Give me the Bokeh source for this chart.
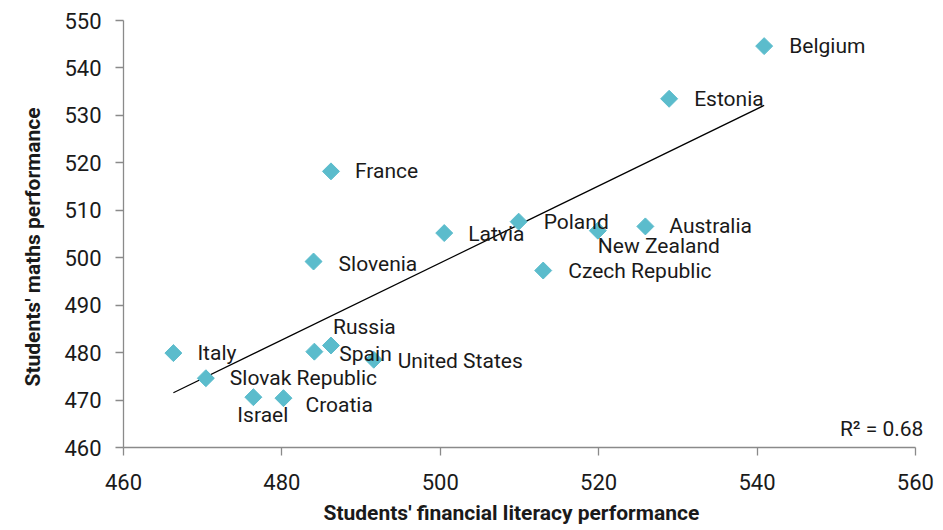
import numpy as np
from bokeh.plotting import figure
from bokeh.models import ColumnDataSource, Label, Range1d, FixedTicker, Title
from bokeh.embed import file_html
from bokeh.resources import INLINE
from bokeh.core.properties import value

# ---- data ----
countries = ["Belgium", "Estonia", "Australia", "France", "Latvia", "Poland",
             "New Zealand", "Slovenia", "Czech Republic", "Russia", "Spain",
             "United States", "Italy", "Slovak Republic", "Israel", "Croatia"]
fin_lit = [540.9, 528.9, 525.9, 486.2, 500.5, 509.9, 519.9, 484.0, 513.0,
           486.2, 484.1, 491.6, 466.3, 470.4, 476.4, 480.2]
maths = [544.6, 533.5, 506.6, 518.2, 505.2, 507.6, 505.7, 499.2, 497.3,
         481.5, 480.2, 478.5, 479.9, 474.6, 470.6, 470.4]
x_ticks = [460, 480, 500, 520, 540, 560]
y_ticks = [460, 470, 480, 490, 500, 510, 520, 530, 540, 550]
x_title = "Students' financial literacy performance"
y_title = "Students' maths performance"
r2_label = "R² = 0.68"

# label placement (screen px, y down)
label_dx = [25, 25, 24, 24, 24, 25, 0, 25, 25, 2, 25, 24, 24, 24, -16, 22]
label_dy = [0, 0, 0, 0, 1, 0, 15, 2, 0, -18, 2, 1, 0, 0, 18, 7]

FONT = "Roboto"
TXT = "#1a1a1a"
AXC = "#8a8a8a"
MARK = "#5bbccc"

p = figure(width=940, height=530, output_backend="svg", toolbar_location=None,
           x_range=Range1d(460, 561.4), y_range=Range1d(460, 550),
           min_border_left=123, min_border_right=14, min_border_top=20,
           min_border_bottom=83)
p.grid.visible = False
p.outline_line_color = None
p.background_fill_color = "white"
p.border_fill_color = "white"

for ax, ticks in ((p.xaxis[0], x_ticks), (p.yaxis[0], y_ticks)):
    ax.ticker = FixedTicker(ticks=ticks)
    ax.minor_tick_line_color = None
    ax.major_tick_in = 0
    ax.major_tick_out = 8
    ax.axis_line_color = AXC
    ax.major_tick_line_color = AXC
    ax.axis_line_width = 1.3
    ax.major_tick_line_width = 1.3
    ax.major_label_text_font = FONT
    ax.major_label_text_font_size = "22px"
    ax.major_label_text_color = TXT

p.xaxis.bounds = (460, 560)
p.xaxis.major_label_standoff = 18
p.yaxis.major_label_standoff = 14

# axis titles as offset titles (to match their off-centre placement)
xt = Title(text=x_title, align="left", offset=200, standoff=12,
           text_font=FONT, text_font_size="21px", text_font_style="bold",
           text_color=TXT)
yt = Title(text=y_title, align="left", offset=61, standoff=29,
           vertical_align="top",
           text_font=FONT, text_font_size="21px", text_font_style="bold",
           text_color=TXT)
p.add_layout(xt, "below")
p.add_layout(yt, "left")

# trend line (least squares)
xs = np.array(fin_lit)
ys = np.array(maths)
slope, intercept = np.polyfit(xs, ys, 1)
tx = [xs.min(), xs.max()]
ty = [slope * v + intercept for v in tx]
p.line(tx, ty, line_color="black", line_width=1.2)

src = ColumnDataSource(dict(x=fin_lit, y=maths, name=countries,
                            dx=label_dx, dy=label_dy))
p.scatter("x", "y", source=src, marker="square", size=12, angle=np.pi / 4,
          fill_color=MARK, line_color=MARK)
p.text("x", "y", text="name", source=src, x_offset="dx", y_offset="dy",
       text_font=value(FONT), text_font_size="21px", text_color=TXT,
       text_baseline="middle", text_align="left")

p.add_layout(Label(x=560, y=460, x_units="data", y_units="data",
                   text=r2_label, text_font=FONT, text_font_size="21px",
                   text_color=TXT, text_align="right", text_baseline="bottom",
                   x_offset=8, y_offset=7))

open("out.html", "w").write(file_html(p, INLINE))
